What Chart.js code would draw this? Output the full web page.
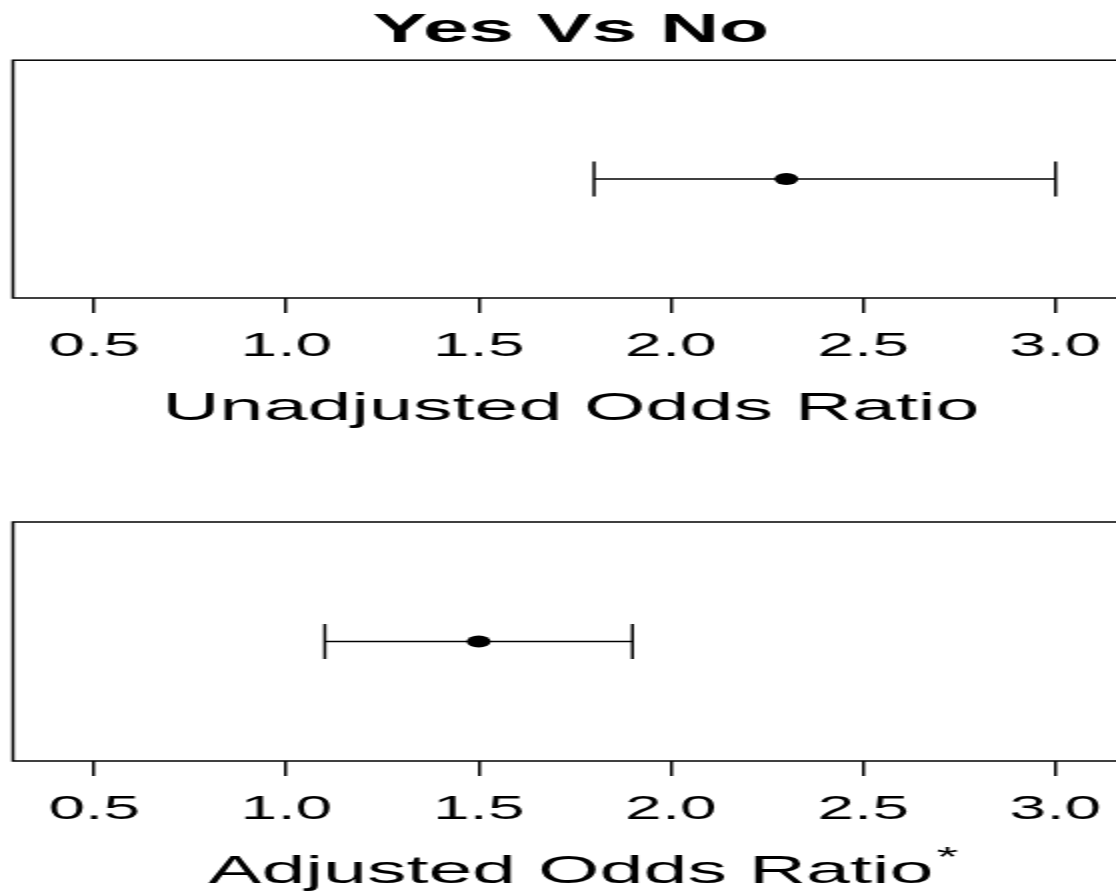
<!DOCTYPE html>
<html>
<head>
<meta charset="utf-8">
<script src="https://cdn.jsdelivr.net/npm/chart.js@4/dist/chart.umd.min.js"></script>
<style>
  html, body { margin: 0; padding: 0; background: #fff; width: 1116px; height: 891px; overflow: hidden; }
  #wrap { width: 566px; transform: scaleX(2); transform-origin: 0 0; }
  .panel { position: relative; width: 566px; }
</style>
</head>
<body>
<div id="wrap">
  <div class="panel" style="height:450px"><canvas id="chart-unadj"></canvas></div>
  <div class="panel" style="height:451px;margin-top:12px"><canvas id="chart-adj"></canvas></div>
</div>
<script>
const categories = ["Unadjusted Odds Ratio", "Adjusted Odds Ratio"]
const oddsRatio = [2.3, 1.5]
const ciLower = [1.8, 1.1]
const ciUpper = [3.0, 1.9]
const xTicks = [0.5, 1.0, 1.5, 2.0, 2.5, 3.0]
const xMin = 0.289
const xMax = 3.191

const FONT = "'Liberation Sans', Arial, Helvetica, sans-serif"
const TITLE_SIZE = 39.5

// box round the plot area, like base R
const boxPlugin = {
  id: "box",
  afterDraw(chart) {
    const a = chart.chartArea
    const ctx = chart.ctx
    ctx.save()
    ctx.strokeStyle = "#000"
    ctx.lineWidth = 1.5
    ctx.strokeRect(a.left, a.top, a.right - a.left, a.bottom - a.top)
    ctx.restore()
  }
}

// superscript asterisk after the adjusted axis title
const starPlugin = {
  id: "star",
  afterDraw(chart) {
    if (!chart.options.plugins.star || !chart.options.plugins.star.show) return
    const s = chart.scales.x
    const ctx = chart.ctx
    ctx.save()
    ctx.font = TITLE_SIZE + "px " + FONT
    const w = ctx.measureText(s.options.title.text).width
    const cx = (chart.chartArea.left + chart.chartArea.right) / 2
    const cy = s.bottom - TITLE_SIZE * 0.6
    ctx.font = "28px " + FONT
    ctx.fillStyle = "#000"
    ctx.textBaseline = "middle"
    ctx.fillText("*", cx + w / 2 + 1.5, cy - 14)
    ctx.restore()
  }
}

function makePanel(id, i, withTitle, star) {
  new Chart(document.getElementById(id), {
    data: {
      datasets: [{
        type: "line",
        data: [{ x: ciLower[i], y: 0 }, { x: ciUpper[i], y: 0 }],
        borderColor: "#000",
        borderWidth: 1.5,
        pointStyle: "line",
        rotation: 90,
        pointRadius: 17.5,
        pointBorderWidth: 1.5,
        pointBorderColor: "#000"
      }, {
        type: "scatter",
        data: [{ x: oddsRatio[i], y: 0 }],
        pointRadius: 6,
        pointBackgroundColor: "#000",
        pointBorderColor: "#000",
        pointBorderWidth: 0
      }]
    },
    options: {
      responsive: true,
      maintainAspectRatio: false,
      animation: false,
      devicePixelRatio: 1,
      layout: {
        autoPadding: false,
        padding: { left: 6.5, right: 1.5, top: withTitle ? 0 : 60, bottom: 17 }
      },
      plugins: {
        legend: { display: false },
        tooltip: { enabled: false },
        title: {
          display: withTitle,
          text: "Yes Vs No",
          color: "#000",
          font: { family: FONT, size: 41, weight: "bold" },
          padding: { top: 6, bottom: 5 }
        },
        star: { show: star }
      },
      scales: {
        x: {
          type: "linear",
          min: xMin,
          max: xMax,
          afterBuildTicks: scale => { scale.ticks = xTicks.map(v => ({ value: v })) },
          grid: { drawOnChartArea: false, tickLength: 15, color: "#000", lineWidth: 1.5 },
          border: { display: false },
          ticks: {
            color: "#000",
            padding: 14,
            maxRotation: 0,
            autoSkip: false,
            font: { family: FONT, size: 33 },
            callback: v => v.toFixed(1)
          },
          title: {
            display: true,
            text: categories[i],
            color: "#000",
            font: { family: FONT, size: TITLE_SIZE },
            padding: { top: 5, bottom: 0 }
          }
        },
        y: { display: false, min: -1, max: 1 }
      }
    },
    plugins: [boxPlugin, starPlugin]
  })
}

makePanel("chart-unadj", 0, true, false)
makePanel("chart-adj", 1, false, true)
</script>
</body>
</html>
